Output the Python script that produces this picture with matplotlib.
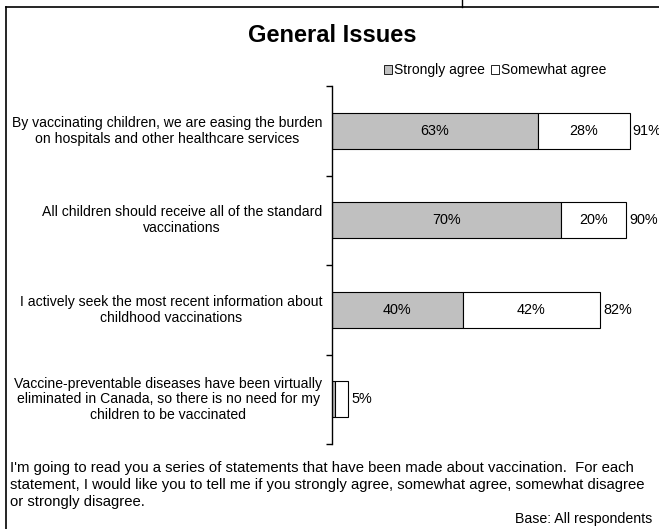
import numpy as np
import matplotlib
matplotlib.use("Agg")
import matplotlib.pyplot as plt
from matplotlib.patches import Patch

plt.rcParams['font.family'] = ['Liberation Sans', 'DejaVu Sans']

# data
statements = [
    "By vaccinating children, we are easing the burden\non hospitals and other healthcare services",
    "All children should receive all of the standard\nvaccinations",
    "I actively seek the most recent information about\nchildhood vaccinations",
    "Vaccine-preventable diseases have been virtually\neliminated in Canada, so there is no need for my\nchildren to be vaccinated",
]
strongly = [63, 70, 40, 1]
somewhat = [28, 20, 42, 4]
totals = [91, 90, 82, 5]
show_seg = [True, True, True, False]

gray = "#c0c0c0"

fig = plt.figure(figsize=(6.59, 5.29), dpi=100)
W, H = 659, 529
ax = fig.add_axes([332 / W, (H - 444) / H, 327 / W, (444 - 86) / H])

y = np.arange(len(statements))
ax.barh(y, strongly, height=0.4, color=gray, edgecolor="black", linewidth=0.8)
ax.barh(y, somewhat, left=strongly, height=0.4, color="white", edgecolor="black", linewidth=0.8)

for i in range(len(statements)):
    if show_seg[i]:
        ax.text(strongly[i] / 2, y[i], f"{strongly[i]}%", ha="center", va="center", fontsize=10.4)
        ax.text(strongly[i] + somewhat[i] / 2, y[i], f"{somewhat[i]}%", ha="center", va="center", fontsize=10.4)
    ax.text(totals[i] + 1, y[i], f"{totals[i]}%", ha="left", va="center", fontsize=10.4, clip_on=False)
    ax.annotate(statements[i], xy=(0, y[i]), xytext=(-7, 0), textcoords="offset points",
                ha="right", va="center", multialignment="center", fontsize=10.1, linespacing=1.15,
                annotation_clip=False)

ax.set_xlim(0, 100)
ax.set_ylim(len(statements) - 0.5, -0.5)
ax.set_yticks(np.arange(len(statements) + 1) - 0.5)
ax.set_yticklabels([])
ax.tick_params(axis="y", direction="out", length=4, width=1)
ax.set_xticks([])
for s in ["top", "right", "bottom"]:
    ax.spines[s].set_visible(False)
ax.spines["left"].set_linewidth(1)
ax.patch.set_alpha(0)

# frame
fig.add_artist(plt.Line2D([6 / W, 6 / W], [0, (H - 7) / H], color="black", linewidth=1.2))
fig.add_artist(plt.Line2D([6 / W, 1], [(H - 7) / H, (H - 7) / H], color="black", linewidth=1.2))
fig.add_artist(plt.Line2D([462 / W, 462 / W], [(H - 7) / H, 1], color="black", linewidth=1))

fig.text(332 / W, (H - 36) / H, "General Issues", ha="center", va="center", fontsize=17, fontweight="bold")

handles = [Patch(facecolor=gray, edgecolor="black", linewidth=0.6),
           Patch(facecolor="white", edgecolor="black", linewidth=0.6)]
fig.legend(handles, ["Strongly agree", "Somewhat agree"], loc="center", bbox_to_anchor=(495 / W, (H - 70) / H),
           ncol=2, frameon=False, fontsize=10, handlelength=0.6, handleheight=0.6, handletextpad=0.15,
           columnspacing=0.4)

fig.text(10 / W, (H - 461) / H,
         "I'm going to read you a series of statements that have been made about vaccination.  For each\n"
         "statement, I would like you to tell me if you strongly agree, somewhat agree, somewhat disagree\n"
         "or strongly disagree.", ha="left", va="top", fontsize=10.7, linespacing=1.28)
fig.text(652 / W, (H - 519) / H, "Base: All respondents", ha="right", va="center", fontsize=10.2)

fig.savefig("out.png", dpi=100)
